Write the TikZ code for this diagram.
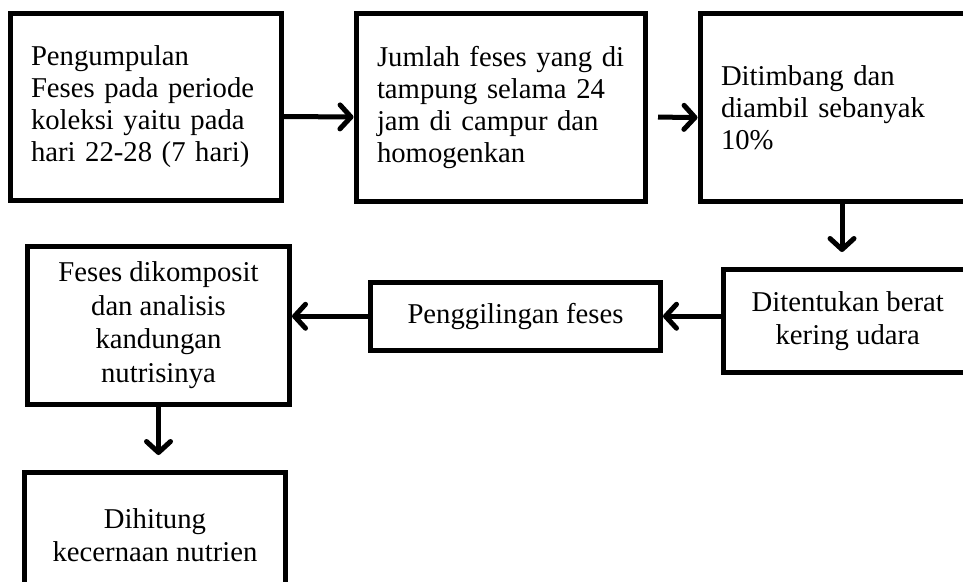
\documentclass[tikz,border=0pt]{standalone}
\usepackage{fontspec}
\setmainfont{Liberation Serif}
\usetikzlibrary{arrows.meta}
\begin{document}
\begin{tikzpicture}[x=1pt,y=-1pt,
  box/.style={draw, line width=5pt, inner sep=0pt, font=\fontsize{28.7}{32}\selectfont},
  lbox/.style={box, align=left, inner xsep=21pt},
  cbox/.style={box, align=center, font=\fontsize{28.7}{33.5}\selectfont},
  arr/.style={line width=5pt, -{Straight Barb[length=11pt,width=24pt,round]}}]
\useasboundingbox (0,0) rectangle (963,581);
\clip (0,0) rectangle (963,581);
\fill[white] (0,0) rectangle (963,581);
\node[lbox, minimum height=187pt, text width=229pt] (b1) at (145.5,106.5)
  {\mbox{Pengumpulan}\\\mbox{Feses pada periode}\\\mbox{koleksi yaitu pada}\\\mbox{hari 22-28 (7 hari)}};
\node[lbox, minimum height=188pt, text width=247.5pt] (b2) at (500.75,107)
  {\mbox{Jumlah feses yang di}\\\mbox{tampung selama 24}\\\mbox{jam di campur dan}\\\mbox{homogenkan}};
\node[lbox, minimum height=188pt, text width=242pt] (b3) at (842,107.5)
  {\mbox{Ditimbang dan}\\\mbox{diambil sebanyak}\\\mbox{10\%}};
\node[cbox, minimum width=248.5pt, minimum height=103pt] (b4) at (847.75,321)
  {Ditentukan berat\\kering udara};
\node[cbox, minimum width=290pt, minimum height=68.5pt] (b5) at (515.5,316.25)
  {Penggilingan feses};
\node[cbox, minimum width=262pt, minimum height=158.5pt] (b6) at (158.5,325.25)
  {Feses dikomposit\\dan analisis\\kandungan\\nutrisinya};
\node[cbox, minimum width=261pt, minimum height=125.5pt] (b7) at (155,535.25)
  {Dihitung\\kecernaan nutrien};
\draw[arr] ([yshift=-10pt]b1.east) -- ([yshift=-10pt]b2.west);
\draw[arr, shorten <=10pt] ([yshift=-10pt]b2.east) -- ([yshift=-10pt]b3.west);
\draw[arr, shorten >=15pt] (b3.south) -- (b4.north -| b3.south);
\draw[arr] (b4.west |- b5.east) -- (b5.east);
\draw[arr] (b5.west) -- (b6.east |- b5.west);
\draw[arr, shorten >=15pt] (b6.south) -- (b7.north -| b6.south);
\end{tikzpicture}
\end{document}
